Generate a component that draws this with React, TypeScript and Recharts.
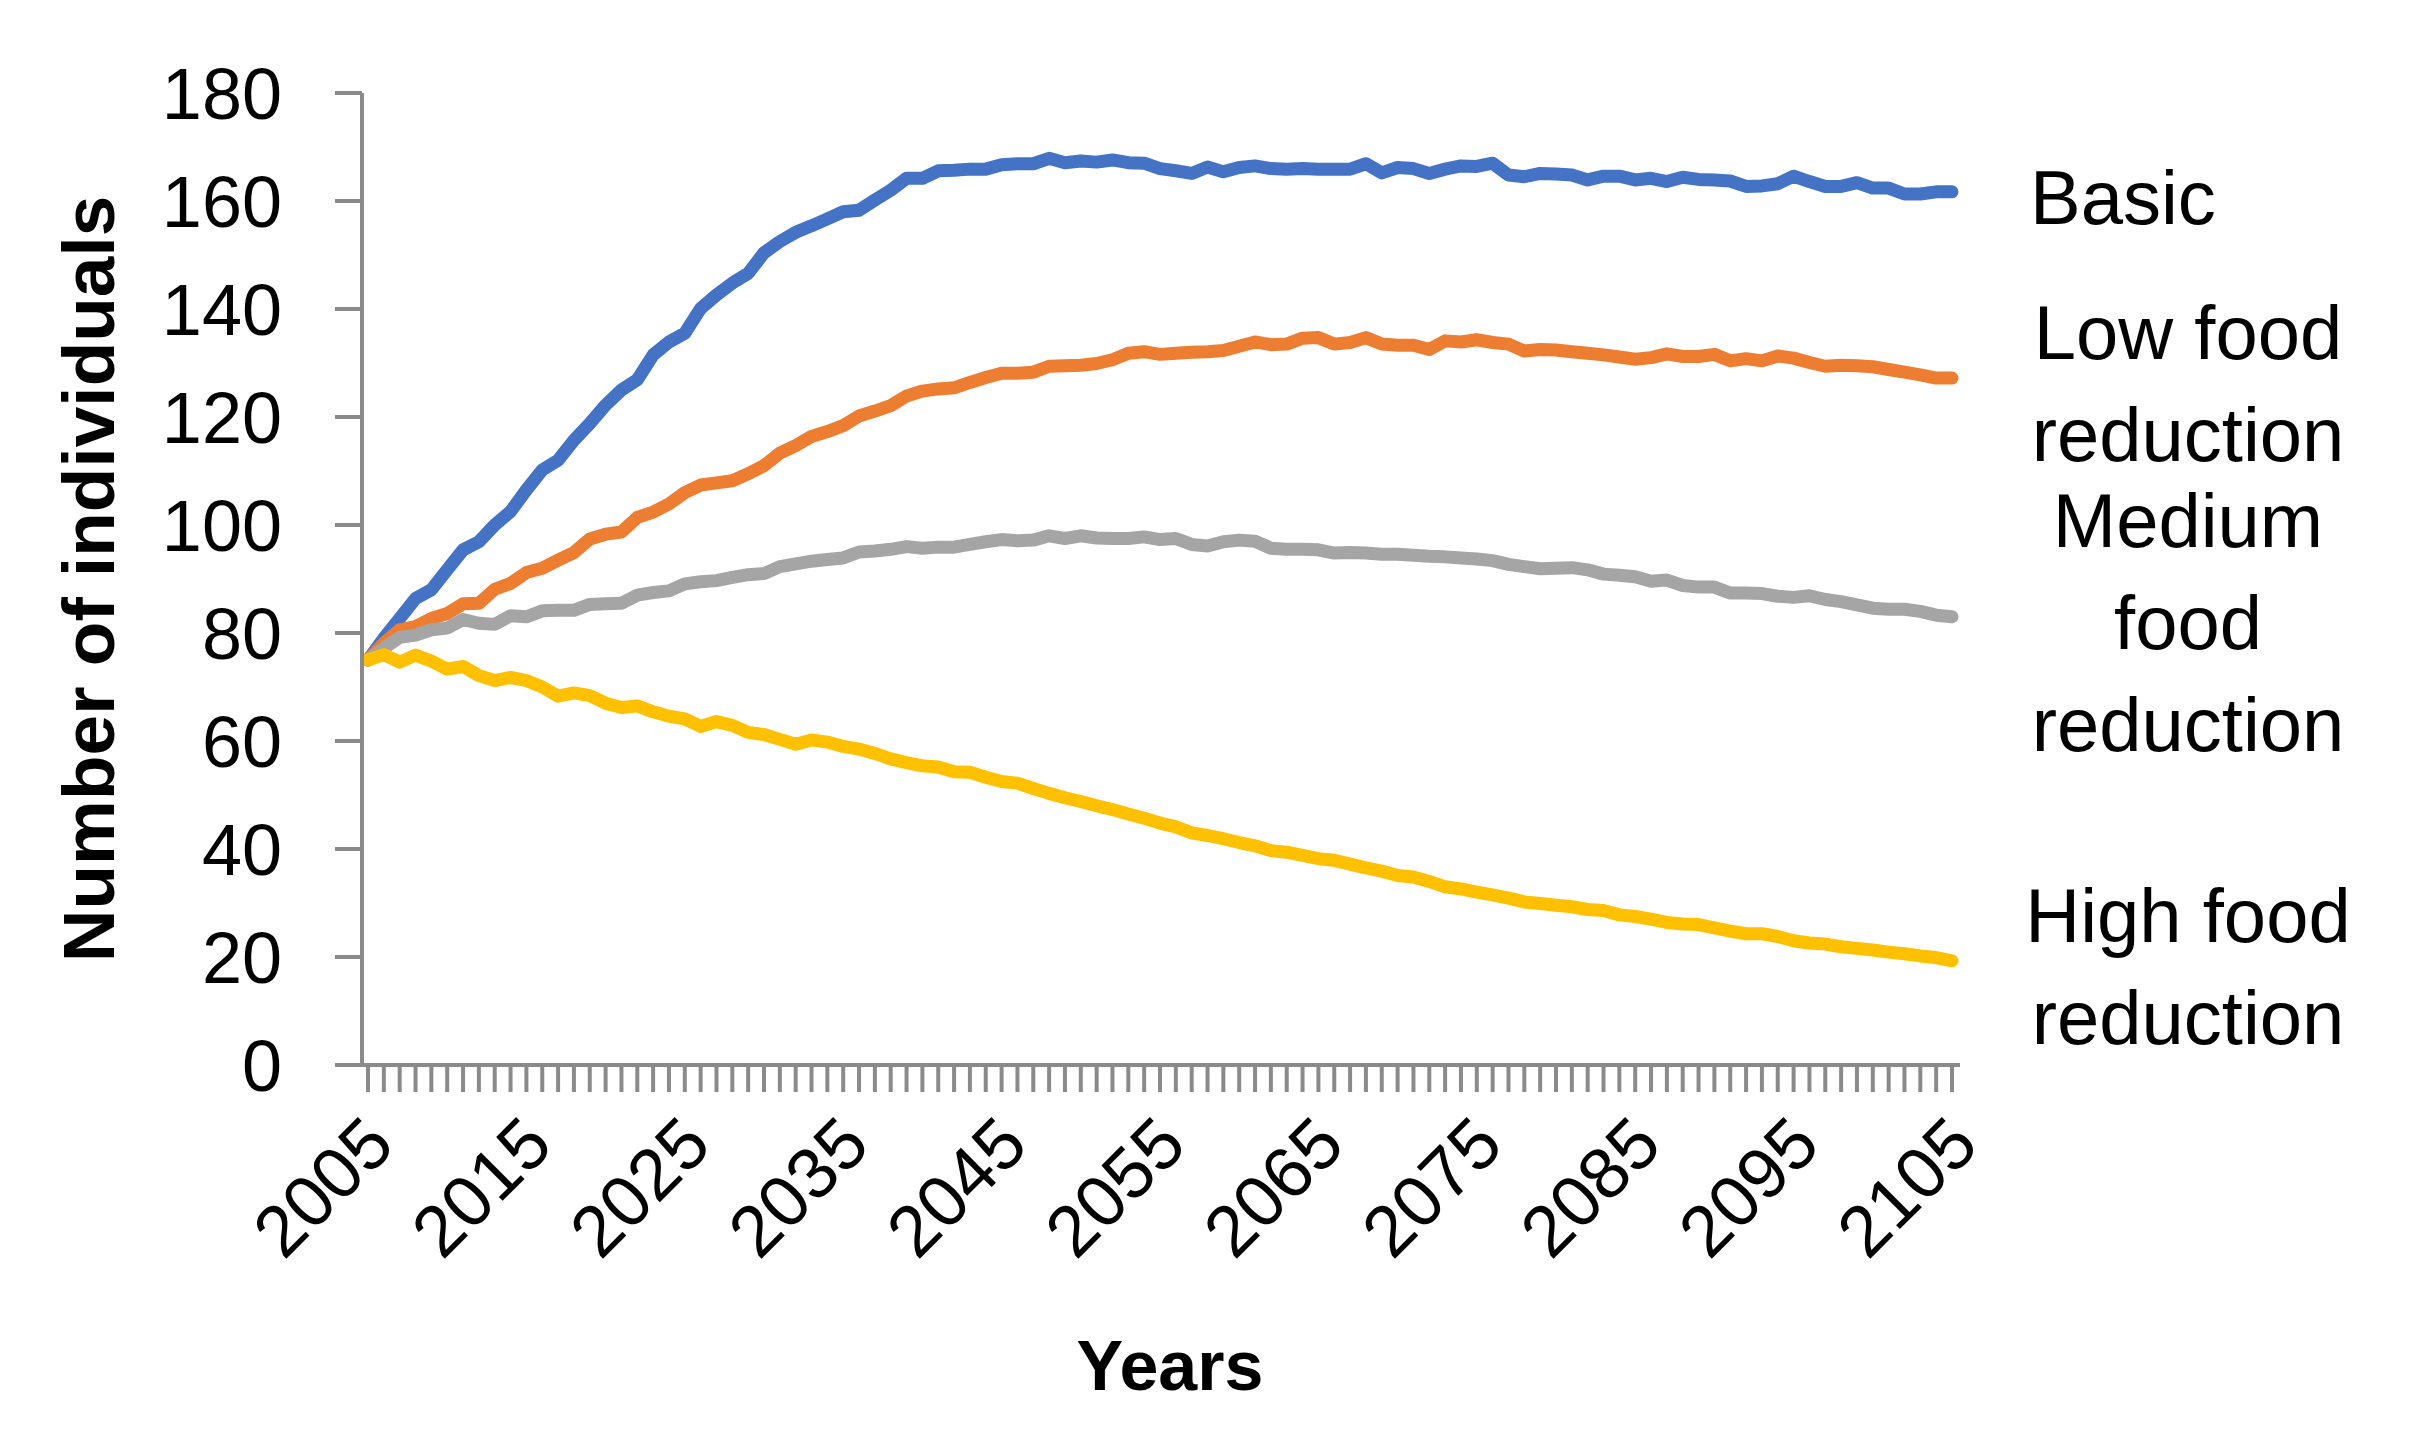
import React from "react"
import { LineChart, Line, XAxis, YAxis, Label, LabelList } from "recharts"

// years shown on the category axis
const YEARS = Array.from({ length: 101 }, (_, i) => String(2005 + i))
const Y_TICKS = [0, 20, 40, 60, 80, 100, 120, 140, 160, 180]

const basic = [
  75, 79.0, 82.7, 86.4, 88.0, 91.7, 95.4, 96.9, 100.0, 102.5,
  106.5, 110.2, 112.0, 115.7, 118.8, 122.2, 125.0, 126.9, 131.5, 133.9,
  135.5, 140.1, 142.6, 144.8, 146.6, 150.4, 152.5, 154.2, 155.4, 156.7,
  158.0, 158.3, 160.2, 162.0, 164.2, 164.2, 165.6, 165.7, 165.9, 165.9,
  166.7, 166.9, 166.9, 167.9, 167.1, 167.4, 167.2, 167.6, 167.1, 167.0,
  166.0, 165.6, 165.1, 166.3, 165.4, 166.2, 166.5, 166.0, 165.9, 166.0,
  165.9, 165.9, 165.9, 166.9, 165.2, 166.2, 166.0, 165.1, 165.9, 166.5,
  166.4, 167.0, 164.8, 164.5, 165.1, 165.0, 164.8, 163.9, 164.6, 164.6,
  163.9, 164.2, 163.6, 164.4, 164.0, 163.9, 163.7, 162.7, 162.8, 163.2,
  164.6, 163.6, 162.7, 162.7, 163.4, 162.4, 162.4, 161.3, 161.3, 161.7,
  161.7,
]

const lowFood = [
  75, 78.1, 80.6, 81.2, 82.7, 83.6, 85.4, 85.5, 88.1, 89.2,
  91.2, 92.0, 93.5, 94.9, 97.4, 98.3, 98.7, 101.4, 102.4, 103.9,
  106.0, 107.4, 107.8, 108.2, 109.5, 111.0, 113.3, 114.7, 116.4, 117.3,
  118.4, 120.2, 121.1, 122.1, 123.9, 124.8, 125.2, 125.4, 126.4, 127.3,
  128.1, 128.1, 128.3, 129.4, 129.5, 129.6, 129.9, 130.6, 131.8, 132.1,
  131.6, 131.8, 132.0, 132.1, 132.3, 133.1, 133.9, 133.4, 133.5, 134.6,
  134.7, 133.5, 133.8, 134.7, 133.5, 133.3, 133.3, 132.5, 134.1, 133.9,
  134.3, 133.8, 133.5, 132.2, 132.5, 132.4, 132.1, 131.8, 131.5, 131.1,
  130.7, 131.0, 131.7, 131.2, 131.2, 131.6, 130.4, 130.8, 130.4, 131.3,
  130.9, 130.1, 129.4, 129.6, 129.5, 129.3, 128.8, 128.3, 127.8, 127.2,
  127.2,
]

const mediumFood = [
  75, 77.2, 79.2, 79.6, 80.6, 80.9, 82.5, 81.8, 81.6, 83.2,
  83.0, 84.1, 84.2, 84.2, 85.3, 85.4, 85.5, 87.0, 87.5, 87.8,
  89.1, 89.5, 89.7, 90.3, 90.8, 91.0, 92.3, 92.8, 93.3, 93.6,
  93.9, 95.0, 95.2, 95.5, 96.0, 95.7, 95.9, 95.9, 96.4, 96.9,
  97.3, 97.1, 97.2, 98.0, 97.5, 98.0, 97.6, 97.5, 97.5, 97.8,
  97.3, 97.5, 96.4, 96.1, 96.9, 97.2, 97.0, 95.7, 95.5, 95.5,
  95.4, 94.8, 94.9, 94.8, 94.6, 94.6, 94.4, 94.2, 94.1, 93.9,
  93.7, 93.4, 92.7, 92.3, 91.9, 92.0, 92.1, 91.7, 90.9, 90.7,
  90.4, 89.6, 89.8, 88.8, 88.5, 88.5, 87.4, 87.4, 87.3, 86.8,
  86.6, 86.9, 86.2, 85.8, 85.2, 84.6, 84.4, 84.4, 84.0, 83.3,
  83.0,
]

const highFood = [
  75, 76.0, 74.6, 75.9, 74.8, 73.3, 73.8, 72.1, 71.2, 71.8,
  71.2, 70.0, 68.3, 68.9, 68.4, 67.0, 66.2, 66.5, 65.4, 64.6,
  64.1, 62.7, 63.6, 62.9, 61.6, 61.2, 60.3, 59.4, 60.2, 59.8,
  59.0, 58.5, 57.7, 56.7, 56.0, 55.4, 55.2, 54.3, 54.2, 53.3,
  52.5, 52.2, 51.2, 50.3, 49.5, 48.8, 48.0, 47.3, 46.5, 45.7,
  44.8, 44.1, 43.0, 42.5, 41.9, 41.2, 40.6, 39.7, 39.4, 38.8,
  38.2, 37.9, 37.2, 36.5, 35.9, 35.1, 34.8, 34.0, 33.0, 32.6,
  32.0, 31.5, 30.9, 30.2, 29.9, 29.6, 29.3, 28.8, 28.6, 27.8,
  27.5, 27.0, 26.4, 26.1, 26.0, 25.4, 24.8, 24.3, 24.3, 23.8,
  23.0, 22.6, 22.4, 21.9, 21.6, 21.3, 20.9, 20.6, 20.2, 19.9,
  19.3,
]

const SERIES = [
  { key: "basic", color: "#4472C4", label: ["Basic"] },
  { key: "lowFood", color: "#ED7D31", label: ["Low food", "reduction"] },
  { key: "mediumFood", color: "#A5A5A5", label: ["Medium", "food", "reduction"] },
  { key: "highFood", color: "#FFC000", label: ["High food", "reduction"] },
]

const data = YEARS.map((year, i) => ({
  year,
  basic: basic[i],
  lowFood: lowFood[i],
  mediumFood: mediumFood[i],
  highFood: highFood[i],
}))

const FONT = '"Liberation Sans", Arial, sans-serif'
const AXIS = "#8a8a8a"

const renderXTick = (props: any) => {
  const { x, y, payload } = props
  const yr = Number(payload.value)
  if ((yr - 2005) % 10 !== 0) return null
  const ax = x + 29
  const ay = y + 56
  return (
    <text x={ax} y={ay} transform={`rotate(-45 ${ax} ${ay})`} textAnchor="end" fontSize={72} fill="#000">
      {payload.value}
    </text>
  )
}

const YTitle = (props: any) => {
  const { viewBox } = props
  const cx = viewBox.x + 80
  const cy = viewBox.y + viewBox.height / 2
  return (
    <text x={cx} y={cy} dy="0.355em" transform={`rotate(-90 ${cx} ${cy})`} textAnchor="middle" fontSize={73} fontWeight="bold" fill="#000">
      Number of individuals
    </text>
  )
}

const XTitle = (props: any) => {
  const { viewBox } = props
  return (
    <text x={viewBox.x + viewBox.width / 2 + 9} y={viewBox.y + 325} textAnchor="middle" fontSize={70} fontWeight="bold" fill="#000">
      Years
    </text>
  )
}

// series name written to the right of the last point
const seriesLabel = (lines: string[]) => (props: any) => {
  const { x, y, index } = props
  if (index !== YEARS.length - 1) return null
  const single = lines.length === 1
  const tx = single ? x + 78 : x + 236
  const y0 = y + 5 - ((lines.length - 1) * 102) / 2
  return (
    <text x={tx} y={y0} dy="0.355em" textAnchor={single ? "start" : "middle"} fontSize={76} fill="#000">
      {lines.map((l, i) => (
        <tspan key={i} x={tx} y={y0 + i * 102} dy="0.355em">
          {l}
        </tspan>
      ))}
    </text>
  )
}

export default function App() {
  return (
    <div style={{ fontFamily: FONT, background: "#fff", width: 2400, height: 1432 }}>
      <LineChart width={2400} height={1432} data={data} margin={{ top: 85, right: 448, bottom: 0, left: 0 }}>
        <XAxis
          dataKey="year"
          interval={0}
          height={375}
          padding={{ left: 6, right: 8 }}
          tickSize={27}
          tickMargin={0}
          tick={renderXTick}
          axisLine={{ stroke: AXIS, strokeWidth: 4 }}
          tickLine={{ stroke: AXIS, strokeWidth: 4 }}
          label={<Label content={XTitle} />}
        />
        <YAxis
          domain={[0, 180]}
          ticks={Y_TICKS}
          width={354}
          tickSize={27}
          tickMargin={53}
          tick={{ fontSize: 72, fill: "#000" }}
          axisLine={{ stroke: AXIS, strokeWidth: 4 }}
          tickLine={{ stroke: AXIS, strokeWidth: 4 }}
          label={<Label content={YTitle} />}
        />
        {SERIES.map((s) => (
          <Line
            key={s.key}
            type="linear"
            dataKey={s.key}
            stroke={s.color}
            strokeWidth={13}
            strokeLinejoin="round"
            strokeLinecap="round"
            dot={false}
            activeDot={false}
            isAnimationActive={false}
          >
            <LabelList dataKey={s.key} content={seriesLabel(s.label)} />
          </Line>
        ))}
      </LineChart>
    </div>
  )
}
